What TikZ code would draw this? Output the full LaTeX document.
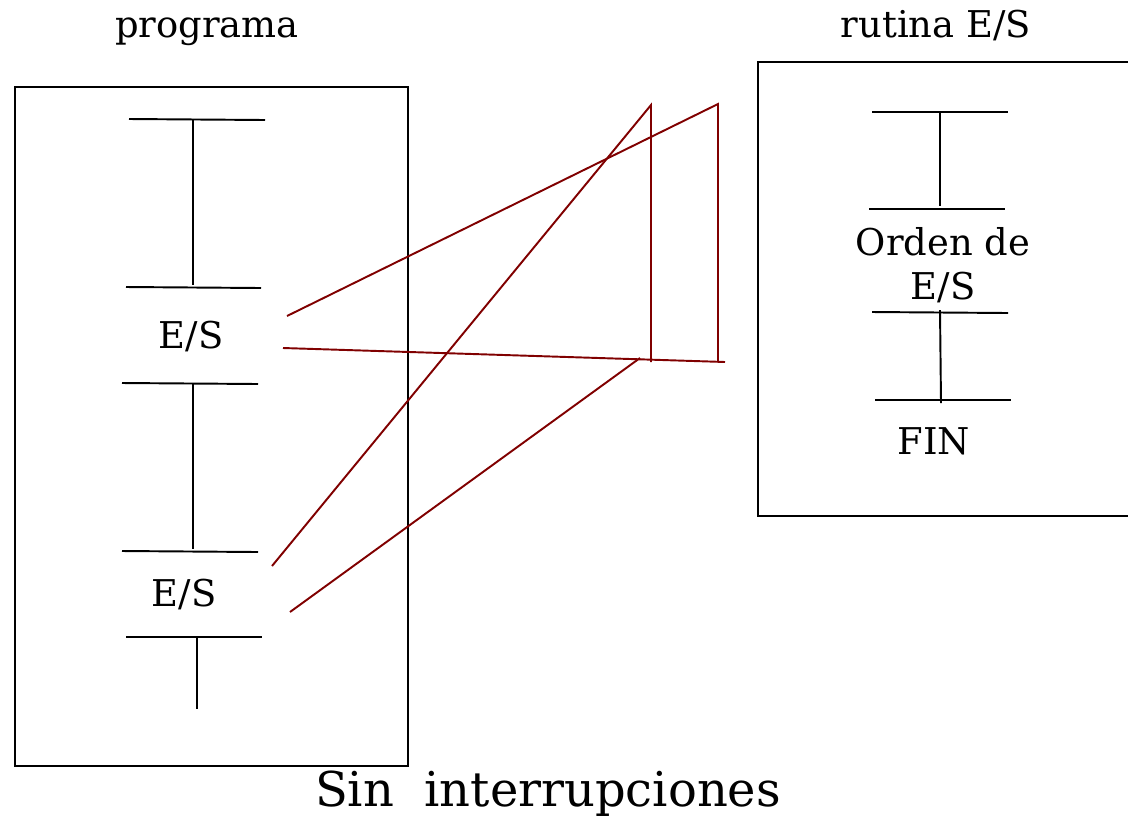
\documentclass[tikz,border=0pt]{standalone}
\usepackage{fontspec}
\setmainfont{DejaVu Serif}
\usetikzlibrary{positioning}

\begin{document}
\begin{tikzpicture}[x=0.02cm, y=-0.02cm,
        caja/.style={draw, line width=1.1pt},
        barra/.style={line width=1.1pt},
        salto/.style={draw=red!50!black, line width=1.1pt},
        rotulo/.style={inner sep=0pt, anchor=base, font=\fontsize{21}{25}\selectfont},
        titulo/.style={inner sep=0pt, anchor=base, font=\fontsize{27.3}{32}\selectfont}]
        \useasboundingbox (0,0) rectangle (1128,819);

        % programa
        \draw[caja] (15,87) rectangle (408,766);
        \node[rotulo] (prog) at (207,37) {programa};

        \draw[barra] (129,119) -- (265,120);
        \draw[barra] (193,120) -- (193,285);
        \draw[barra] (126,287) -- (261,288);
        \node[rotulo] (es1) at (191,348) {E/S};
        \draw[barra] (122,383) -- (258,384);
        \draw[barra] (193,384) -- (193,549);
        \draw[barra] (122,551) -- (258,552);
        \node[rotulo] (es2) at (184,606) {E/S};
        \draw[barra] (126,637) -- (262,637);
        \draw[barra] (197,637) -- (197,709);

        % rutina
        \draw[caja] (758,62) rectangle (1140,516);
        \node[rotulo] (rut) at (936,37) {rutina E/S};

        \draw[barra] (872,112) -- (1008,112);
        \draw[barra] (940,112) -- (940,206);
        \draw[barra] (869,209) -- (1005,209);
        \node[rotulo, anchor=center, align=center] (orden) at (943,265) {Orden de\\E/S};
        \draw[barra] (872,312) -- (1008,313);
        \draw[barra] (940,310) -- (941,403);
        \draw[barra] (875,400) -- (1011,400);
        \node[rotulo] (fin) at (934,454) {FIN};

        % saltos
        \coordinate (A1) at (287,316);
        \coordinate (A2) at (718,104);
        \coordinate (A3) at (718,362);
        \coordinate (R1) at (283,348);
        \coordinate (R2) at (725,362);
        \coordinate (B1) at (272,566);
        \coordinate (B2) at (651,105);
        \coordinate (B3) at (651,362);
        \coordinate (C1) at (290,612);
        \coordinate (C2) at (640,358);
        \draw[salto] (A1) -- (A2) -- (A3);
        \draw[salto] (R1) -- (R2);
        \draw[salto] (B1) -- (B2) -- (B3);
        \draw[salto] (C1) -- (C2);

        \node[titulo] (sin) at (548,806) {Sin\ \ interrupciones};
    \end{tikzpicture}
\end{document}
